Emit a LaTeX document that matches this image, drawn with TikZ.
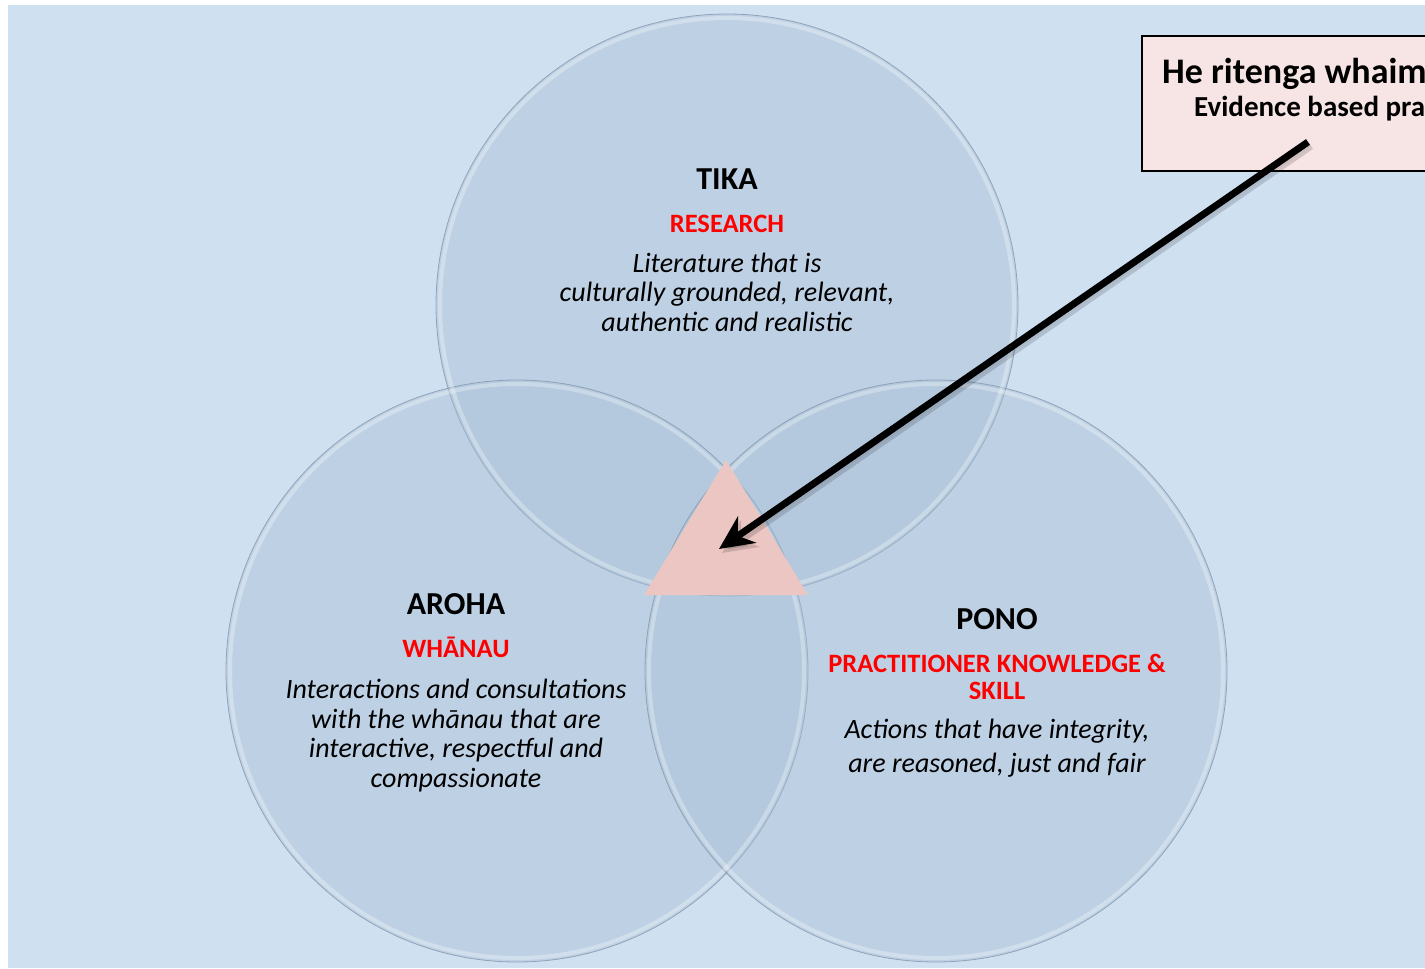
\documentclass[tikz,border=0pt]{standalone}
\usepackage{fontspec}
\setmainfont{Carlito}
\usetikzlibrary{arrows.meta}
\definecolor{bgblue}{HTML}{CFE0F1}
\definecolor{circfill}{HTML}{A8BED4}
\definecolor{circedge}{HTML}{8A9DB2}
\definecolor{trifill}{HTML}{EBC6C3}
\definecolor{boxfill}{HTML}{F7E4E4}
\definecolor{redtxt}{HTML}{FF0000}
\tikzset{
  bubble/.style={circle, minimum size=582pt, inner sep=0pt, fill=circfill, fill opacity=0.42, draw=circedge, line width=0.8pt, draw opacity=0.9},
  glow/.style={draw=white, draw opacity=0.3, line width=4pt},
  titletxt/.style={font=\fontsize{32}{36}\selectfont\bfseries, text=black, inner sep=0pt, anchor=base},
  subtxt/.style={font=\fontsize{26.5}{26.5}\selectfont\bfseries, text=redtxt, inner sep=0pt, anchor=base, align=center},
  bodytxt/.style={font=\fontsize{28}{29.5}\selectfont\itshape, text=black, inner sep=0pt, anchor=base, align=center},
  evbox/.style={draw=black, line width=1.6pt, fill=boxfill},
  bigarrow/.style={line width=7pt, -{Stealth[length=34pt, width=32pt]}}
}
\begin{document}
\begin{tikzpicture}[x=1pt, y=-1pt]
\useasboundingbox (0,0) rectangle (1425,969);
\fill[white] (0,0) rectangle (1425,969);
\fill[bgblue] (8,5) rectangle (1425,968);
% circles
\node[bubble] (tika) at (727,305) {};
\node[bubble] (aroha) at (517,671) {};
\node[bubble] (pono) at (936,671) {};
\draw[glow] (727,305) circle (287pt);
\draw[glow] (517,671) circle (287pt);
\draw[glow] (936,671) circle (287pt);
% centre triangle
\fill[trifill] (726,460) -- (808,595) -- (644,595) -- cycle;
\coordinate (tri) at (719,549);
% evidence box
\draw[evbox] (1142,36) rectangle (1460,171);
\node[font=\fontsize{36}{40}\selectfont\bfseries, anchor=base west, inner sep=0pt] (he) at (1162,83) {He ritenga whaimana};
\node[font=\fontsize{29}{32}\selectfont\bfseries, anchor=base west, inner sep=0pt] (ev) at (1194,116) {Evidence based practice};
\coordinate (astart) at (1308,142);
% arrow shadow and arrow
\draw[bigarrow, draw=black, fill=black, opacity=0.15, transform canvas={xshift=3pt, yshift=-4pt}] (astart) -- (tri);
\draw[bigarrow] (astart) -- (tri);
% TIKA
\node[titletxt] (t1) at (727,189) {TIKA};
\node[subtxt] (t2) at (727,232) {RESEARCH};
\node[bodytxt] (t3) at (727,331) {Literature that is\\culturally grounded, relevant,\\authentic and realistic};
% AROHA
\node[titletxt] (a1) at (456,614) {AROHA};
\node[subtxt] (a2) at (456,657) {WHĀNAU};
\node[bodytxt] (a3) at (456,787) {Interactions and consultations\\with the whānau that are\\interactive, respectful and\\compassionate};
% PONO
\node[titletxt] (p1) at (997,629) {PONO};
\node[subtxt] (p2) at (997,699) {PRACTITIONER KNOWLEDGE \&\\SKILL};
\node[bodytxt, font=\fontsize{28}{34}\selectfont\itshape] (p3) at (997,772) {Actions that have integrity,\\are reasoned, just and fair};
\end{tikzpicture}
\end{document}
